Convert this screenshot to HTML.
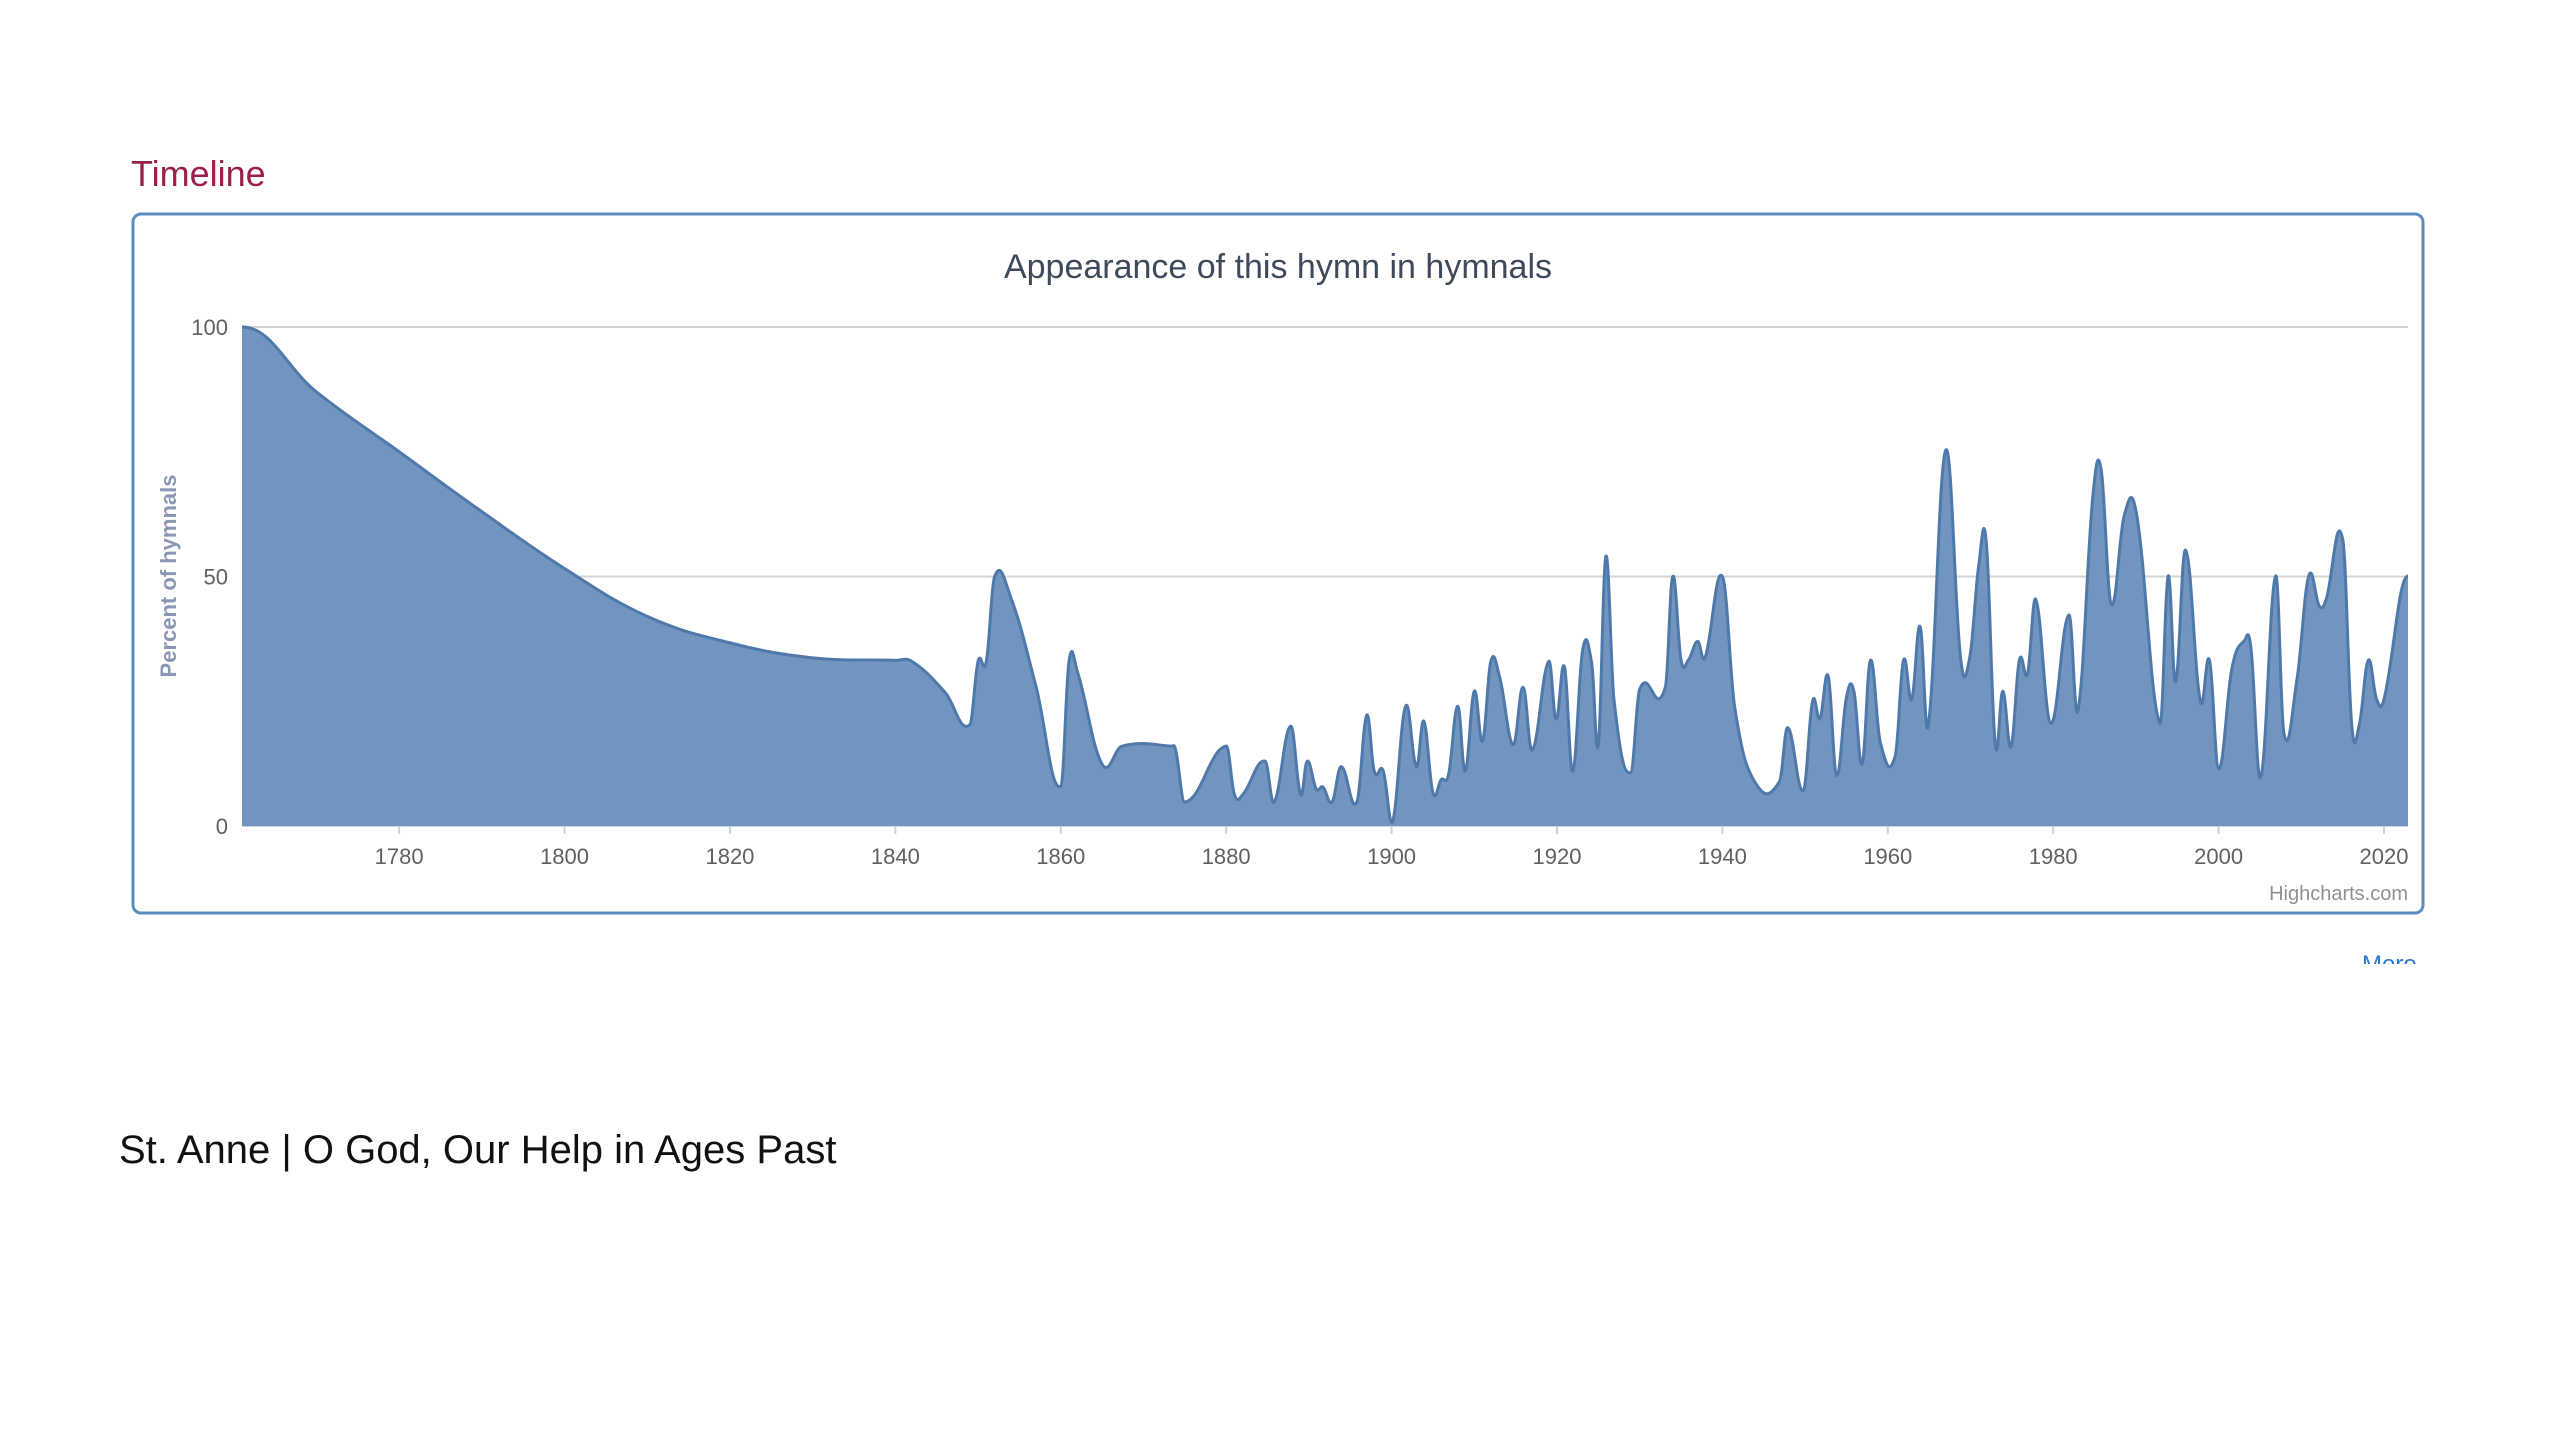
<!DOCTYPE html>
<html><head><meta charset="utf-8"><style>
html,body{margin:0;padding:0;background:#fff;}
svg{display:block;}
</style></head><body>
<svg id="chart" width="2560" height="1440" viewBox="0 0 2560 1440" xmlns="http://www.w3.org/2000/svg">
<text x="131" y="186" font-family="Liberation Sans Narrow, Liberation Sans, sans-serif" font-size="36" fill="#9a1f4c">Timeline</text>
<rect x="133" y="214" width="2290" height="699" rx="8" fill="#fff" stroke="#5b8bbf" stroke-width="3"/>
<text x="1278" y="278" text-anchor="middle" font-family="Liberation Sans Narrow, Liberation Sans, sans-serif" font-size="34" fill="#3e4a5a">Appearance of this hymn in hymnals</text>
<g id="grid"></g>
<g id="area"></g>
<g id="axes"></g>
<text transform="translate(176,576) rotate(-90)" text-anchor="middle" font-family="Liberation Sans, sans-serif" font-weight="bold" font-size="22" fill="#8a97b4">Percent of hymnals</text>
<text x="2408" y="900" text-anchor="end" font-family="Liberation Sans Narrow, Liberation Sans, sans-serif" font-size="20" fill="#909090">Highcharts.com</text>
<text x="2362" y="972" font-family="Liberation Sans, sans-serif" font-size="24" fill="#2a7ad0" clip-path="url(#moreclip)">More</text>
<clipPath id="moreclip"><rect x="2350" y="950" width="80" height="14"/></clipPath>
<text x="119" y="1163" font-family="Liberation Sans, sans-serif" font-size="40" fill="#111">St. Anne | O God, Our Help in Ages Past</text>
</svg>
<script>
const years = [1761,1770,1780,1790,1800,1810,1820,1830,1840,1842,1846,1849,1850,1851,1852,1854,1857,1860,1861,1862,1865,1867.4,1873.4,1873.9,1875,1880,1881,1882,1884.7,1885.8,1887.8,1889,1889.8,1890.9,1891.7,1892.8,1893.9,1895.8,1897,1897.9,1899,1900.1,1901.7,1903,1903.9,1905,1906,1906.9,1908,1908.9,1910,1911,1912,1913.1,1914.7,1915.9,1917,1919,1919.9,1920.9,1921.9,1923.1,1924.2,1925,1925.9,1926.9,1928.9,1930,1933.1,1934,1935,1935.9,1937,1937.9,1940,1941.5,1943.9,1946.9,1947.9,1949.8,1950.9,1951.8,1952.8,1953.8,1955,1955.9,1956.9,1957.9,1959.1,1960.9,1961.9,1962.9,1963.9,1964.9,1967,1968.8,1969.9,1971,1971.9,1973,1973.9,1974.9,1975.9,1976.9,1977.9,1979.7,1981.9,1983,1984.8,1985.8,1987,1988.6,1990.1,1992.9,1993.9,1994.8,1996,1997.8,1998.9,2000,2001.6,2003.1,2003.9,2005.1,2006.9,2007.9,2009.5,2010.9,2012.2,2013,2015,2016.1,2017,2018.1,2019.1,2020,2022.9];
const values = [100,87,75,63,51.6,42,36.7,33.7,33.2,33,26.8,20.3,33,33,50,45.6,28,8,33,31,12.4,16,16,15.2,4.8,16,6.3,6.3,13,4.8,20,6.3,13,7.4,7.8,4.8,11.9,4.8,22.2,11,11,0.7,24,11.9,21,6.7,9.3,10.4,24,11,27,17,33,29.6,16.3,27.8,15.2,33,21.5,31.9,11,35.2,32.6,16.3,54,25.2,10.7,27.4,27.8,50,33.3,33.3,37,33.7,50,23.7,8.9,8.9,19.7,7.2,25,21.5,30,10.2,25.8,27,12.4,33.2,16.7,14.1,33.2,25.4,40,20.2,75.3,33.7,33.7,52.3,57,16.3,27,15.9,33.2,30.6,45.4,20.6,42.3,23.2,66.2,71.4,44.5,62.3,62.3,20.6,50.1,28.9,55.3,25,33.2,11.5,31.5,37.1,35.8,9.8,50.1,18.5,29.7,50.1,44,45.4,57.5,20.2,20.2,33.2,25.4,25.4,50.1];
const xTicks = [1780,1800,1820,1840,1860,1880,1900,1920,1940,1960,1980,2000,2020];
const yTicks = [0,50,100];
const X0=242, X1=2408, Y0=826, Y1=327, YMIN=1761, YMAX=2022.9;
const xs = y => X0 + (y-YMIN)/(YMAX-YMIN)*(X1-X0);
const ys = v => Y0 - v/100*(Y0-Y1);
const NS='http://www.w3.org/2000/svg';
const grid=document.getElementById('grid'), axes=document.getElementById('axes'), area=document.getElementById('area');
yTicks.forEach(t=>{
  const l=document.createElementNS(NS,'line');
  
  
  l.setAttribute('x1',X0);l.setAttribute('x2',X1);l.setAttribute('y1',ys(t));l.setAttribute('y2',ys(t));
  l.setAttribute('stroke',t===0?'#c6d4e4':'#d4d4d4');l.setAttribute('stroke-width','2');
  grid.appendChild(l);
  const tx=document.createElementNS(NS,'text');
  
  
  tx.setAttribute('x',228);tx.setAttribute('y',ys(t)+8);tx.setAttribute('text-anchor','end');
  tx.setAttribute('font-family','Liberation Sans Narrow, Liberation Sans, sans-serif');tx.setAttribute('font-size','22');tx.setAttribute('fill','#606060');
  tx.textContent=t;axes.appendChild(tx);
});
xTicks.forEach(t=>{
  const l=document.createElementNS(NS,'line');
  
  
  l.setAttribute('x1',xs(t));l.setAttribute('x2',xs(t));l.setAttribute('y1',Y0);l.setAttribute('y2',Y0+8);
  l.setAttribute('stroke','#c6d4e4');l.setAttribute('stroke-width','2');axes.appendChild(l);
  const tx=document.createElementNS(NS,'text');
  
  
  tx.setAttribute('x',xs(t));tx.setAttribute('y',864);tx.setAttribute('text-anchor','middle');
  tx.setAttribute('font-family','Liberation Sans Narrow, Liberation Sans, sans-serif');tx.setAttribute('font-size','22');tx.setAttribute('fill','#606060');
  tx.textContent=t;axes.appendChild(tx);
});
const pts=years.map((y,i)=>[xs(y),ys(values[i])]);
function spline(p){
  let d='M'+p[0][0]+','+p[0][1];
  const s=1.5;
  for(let i=0;i<p.length-1;i++){
    const a=p[i-1]||p[i], b=p[i], c=p[i+1], e=p[i+2]||c;
    let c1x=(s*b[0]+c[0])/(s+1), c1y=b[1];
    let c2x=(b[0]+s*c[0])/(s+1), c2y=c[1];
    if(a!==b){const lx=(s*b[0]+a[0])/(s+1),ly=(s*b[1]+a[1])/(s+1),rx=(s*b[0]+c[0])/(s+1),ry=(s*b[1]+c[1])/(s+1);
      const k=(ry-ly)/((rx-lx)||1); c1y=b[1]+k*(c1x-b[0]);}
    if(e!==c){const lx=(s*c[0]+b[0])/(s+1),ly=(s*c[1]+b[1])/(s+1),rx=(s*c[0]+e[0])/(s+1),ry=(s*c[1]+e[1])/(s+1);
      const k=(ry-ly)/((rx-lx)||1); c2y=c[1]+k*(c2x-c[0]);}
    c1y=Math.min(Y0,c1y);c2y=Math.min(Y0,c2y);
    d+=' C'+c1x+','+c1y+' '+c2x+','+c2y+' '+c[0]+','+c[1];
  }
  return d;
}
const line=spline(pts);
const fill=document.createElementNS(NS,'path');


fill.setAttribute('d',line+' L'+X1+','+Y0+' L'+X0+','+Y0+' Z');
fill.setAttribute('fill','#7195be');area.appendChild(fill);
const st=document.createElementNS(NS,'path');


st.setAttribute('d',line);st.setAttribute('fill','none');st.setAttribute('stroke','#4f79aa');st.setAttribute('stroke-width','3');
area.appendChild(st);
</script>
</body></html>
